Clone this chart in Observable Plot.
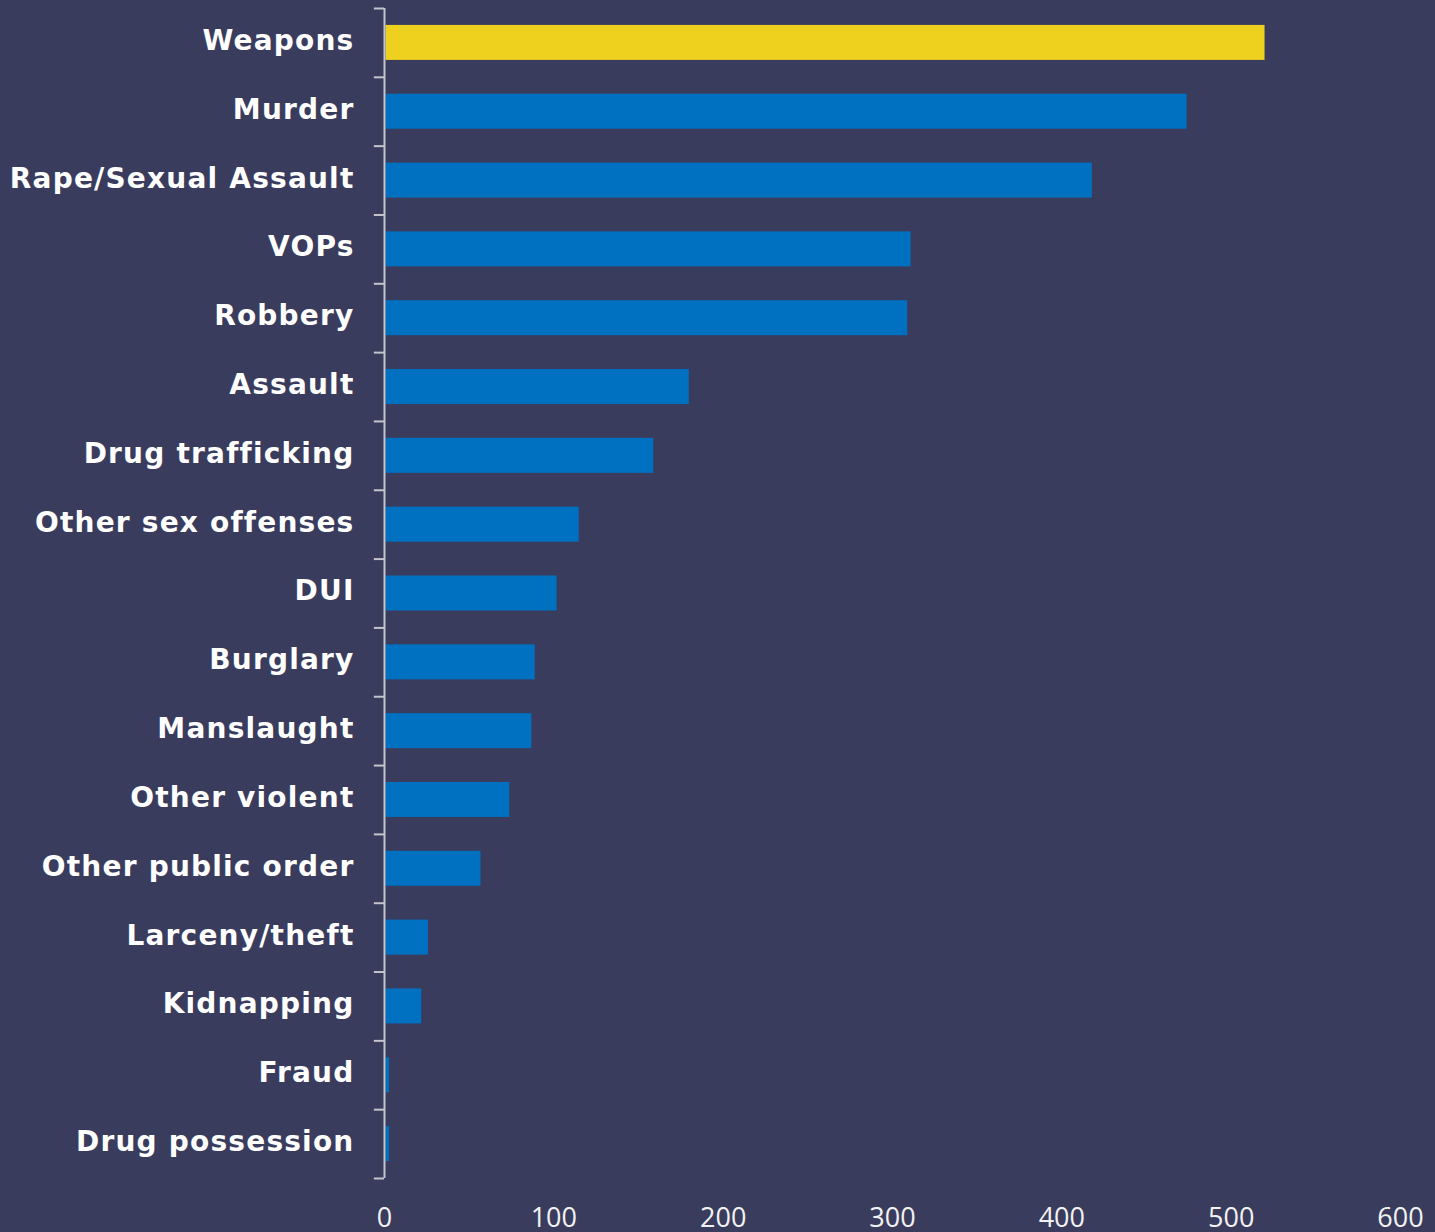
<!DOCTYPE html>
<html>
<head>
<meta charset="utf-8">
<script src="https://cdn.jsdelivr.net/npm/d3@7"></script>
<script src="https://cdn.jsdelivr.net/npm/@observablehq/plot@0.6"></script>
<style>
  html, body { margin: 0; padding: 0; background: #3a3c5e; }
  #chart svg { display: block; }
  #chart g[aria-label="y-axis tick label"] text { letter-spacing: 1.2px; }
</style>
</head>
<body>
<div id="chart"></div>
<script>
const categories = [
  "Weapons", "Murder", "Rape/Sexual Assault", "VOPs", "Robbery", "Assault",
  "Drug trafficking", "Other sex offenses", "DUI", "Burglary", "Manslaught",
  "Other violent", "Other public order", "Larceny/theft", "Kidnapping",
  "Fraud", "Drug possession"
];
const values = [520, 474, 418, 311, 309, 180, 159, 115, 102, 89, 87, 74, 57, 26, 22, 3, 3];
const highlight = "Weapons";
const xTicks = [0, 100, 200, 300, 400, 500, 600];

const data = categories.map((c, i) => ({category: c, value: values[i]}));

const W = 1435, H = 1232;
const mTop = 8, mBottom = 54, mLeft = 384, mRight = 35;
const step = (H - mTop - mBottom) / categories.length;
const barH = 35;
const inset = (step - barH) / 2;

const chart = Plot.plot({
  width: W,
  height: H,
  marginTop: mTop,
  marginBottom: mBottom,
  marginLeft: mLeft,
  marginRight: mRight,
  style: {background: "#3a3c5e", color: "#ffffff", overflow: "visible"},
  x: {domain: [0, 600], ticks: xTicks, label: null},
  y: {domain: categories, padding: 0, round: false, label: null},
  marks: [
    Plot.barX(data, {
      y: "category", x: "value",
      fill: d => d.category === highlight ? "#eed01e" : "#0070c0",
      insetTop: inset, insetBottom: inset, insetLeft: 1.5
    }),
    Plot.ruleY(categories, {y: d => d, x1: -6, x2: 0, dy: -step / 2, stroke: "#c4c4cc", strokeWidth: 2}),
    Plot.ruleY([categories[categories.length - 1]], {y: d => d, x1: -6, x2: 0, dy: step / 2, stroke: "#c4c4cc", strokeWidth: 2}),
    Plot.ruleX([0], {stroke: "#c4c4cc", strokeWidth: 2}),
    Plot.axisY({
      tickSize: 0, tickPadding: 30, dy: -2,
      fontSize: 28, fontWeight: "bold", fontFamily: "DejaVu Sans",
      fill: "#ffffff", label: null
    }),
    Plot.axisX({
      ticks: xTicks, tickSize: 0, tickPadding: 29,
      fontSize: 27, fontFamily: "Open Sans", fill: "#f2f2f2", label: null
    })
  ]
});

document.getElementById("chart").appendChild(chart);
</script>
</body>
</html>
